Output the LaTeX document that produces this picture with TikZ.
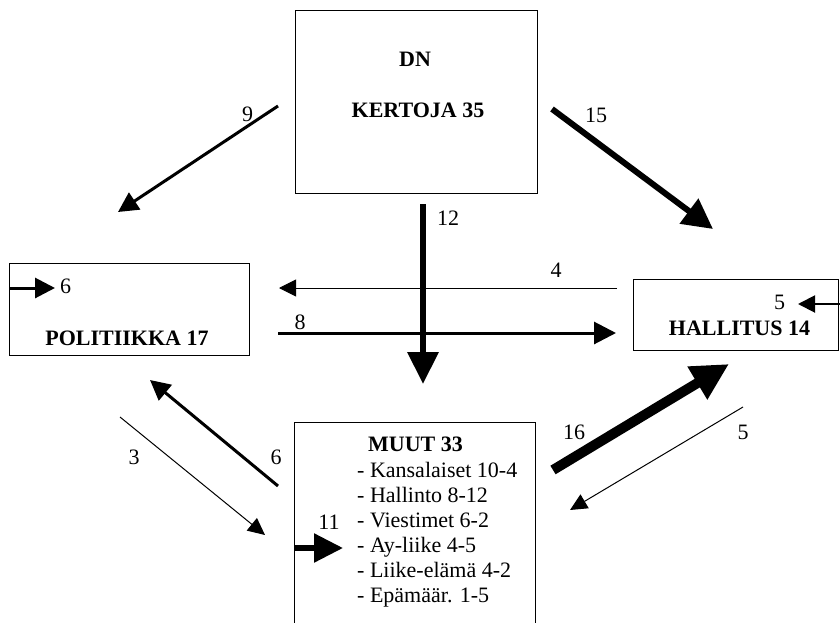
\documentclass[tikz,border=0pt]{standalone}
\usepackage{fontspec}
\setmainfont{Liberation Serif}
\usetikzlibrary{arrows.meta}
\begin{document}
\begin{tikzpicture}[x=1pt,y=-1pt,
  box/.style={draw, line width=1.3pt, inner sep=0pt, anchor=north west},
  lbl/.style={font=\fontsize{22}{25}\selectfont, inner sep=0pt},
  ttl/.style={font=\fontsize{22}{25}\selectfont\bfseries, inner sep=0pt, anchor=base},
  itm/.style={font=\fontsize{22}{25}\selectfont, inner sep=0pt, anchor=base west},
  aone/.style={line width=1pt, -{Triangle[length=17pt,width=16pt]}},
  atwo/.style={line width=2pt, -{Triangle[length=17pt,width=17pt]}},
  athree/.style={line width=3pt, -{Triangle[length=20pt,width=20pt]}},
  asix/.style={line width=6pt, -{Triangle[length=30pt,width=30pt]}},
  aten/.style={line width=10pt, -{Triangle[length=37pt,width=36pt]}}
]
\useasboundingbox (0,0) rectangle (840,623);
\clip (0,0) rectangle (840,623);

% boxes
\node[box, minimum width=242pt, minimum height=183pt] (dn) at (295,10) {};
\node[box, minimum width=240pt, minimum height=92pt] (pol) at (9,263) {};
\node[box, minimum width=205pt, minimum height=71pt] (hal) at (633,279) {};
\node[box, minimum width=241pt, minimum height=240pt] (muut) at (294,422) {};

% box texts
\node[ttl] (dnA) at (415,66.7) {DN};
\node[ttl] (dnB) at (418,117.3) {KERTOJA 35};
\node[ttl] (polT) at (127,345) {POLITIIKKA 17};
\node[ttl] (halT) at (739.5,335) {HALLITUS 14};
\node[ttl] (muT) at (415.5,451.7) {MUUT 33};
\node[itm] (m1) at (357,477.5) {- Kansalaiset 10-4};
\node[itm] (m2) at (357,502.5) {- Hallinto 8-12};
\node[itm] (m3) at (357,527.5) {- Viestimet 6-2};
\node[itm] (m4) at (357,552.5) {- Ay-liike 4-5};
\node[itm] (m5) at (357,577.5) {- Liike-elämä 4-2};
\node[itm] (m6) at (357,602.5) {- Epämäär. 1-5};

% arrow end points
\coordinate (a9t) at (278,106);  \coordinate (a9h) at (118,212);
\coordinate (a15t) at (552,109); \coordinate (a15h) at (713,229);
\coordinate (a12t) at (423,204); \coordinate (a12h) at (423,384);
\coordinate (a4t) at (617,288);  \coordinate (a4h) at (279,288);
\coordinate (a8t) at (278,333);  \coordinate (a8h) at (616,333);
\coordinate (p6h) at (55,288);
\coordinate (h5t) at (842,304);  \coordinate (h5h) at (798,304);
\coordinate (a6t) at (278,486);  \coordinate (a6h) at (150,380);
\coordinate (a3t) at (120,417);  \coordinate (a3h) at (265,535);
\coordinate (a16t) at (553,470); \coordinate (a16h) at (729,364);
\coordinate (a5t) at (743,407);  \coordinate (a5h) at (570,510);
\coordinate (m11h) at (343,548);

% arrows
\draw[athree] (a9t) -- (a9h);
\draw[asix] (a15t) -- (a15h);
\draw[line width=6.5pt, -{Triangle[length=32pt,width=30pt]}] (a12t) -- (a12h);
\draw[aone, -{Triangle[length=17pt,width=17pt]}] (a4t) -- (a4h);
\draw[athree, -{Triangle[length=22pt,width=22pt]}] (a8t) -- (a8h);
\draw[athree] (pol.west |- p6h) -- (p6h);
\draw[atwo] (h5t) -- (h5h);
\draw[athree] (a6t) -- (a6h);
\draw[aone] (a3t) -- (a3h);
\draw[aten] (a16t) -- (a16h);
\draw[aone] (a5t) -- (a5h);
\draw[line width=5.5pt, -{Triangle[length=29pt,width=28pt]}] (muut.west |- m11h) -- (m11h);

% labels
\node[lbl] (l9) at (247.5,114) {9};
\node[lbl] (l15) at (596,115) {15};
\node[lbl] (l12) at (448,218) {12};
\node[lbl] (l4) at (556,270) {4};
\node[lbl] (l8) at (300,322) {8};
\node[lbl] (l6a) at (65.5,286.7) {6};
\node[lbl] (l5a) at (779.5,302.5) {5};
\node[lbl] (l6b) at (276,457.5) {6};
\node[lbl] (l3) at (134,457.5) {3};
\node[lbl] (l11) at (329,522.5) {11};
\node[lbl] (l16) at (574,432.5) {16};
\node[lbl] (l5b) at (743,432.5) {5};
\end{tikzpicture}
\end{document}
